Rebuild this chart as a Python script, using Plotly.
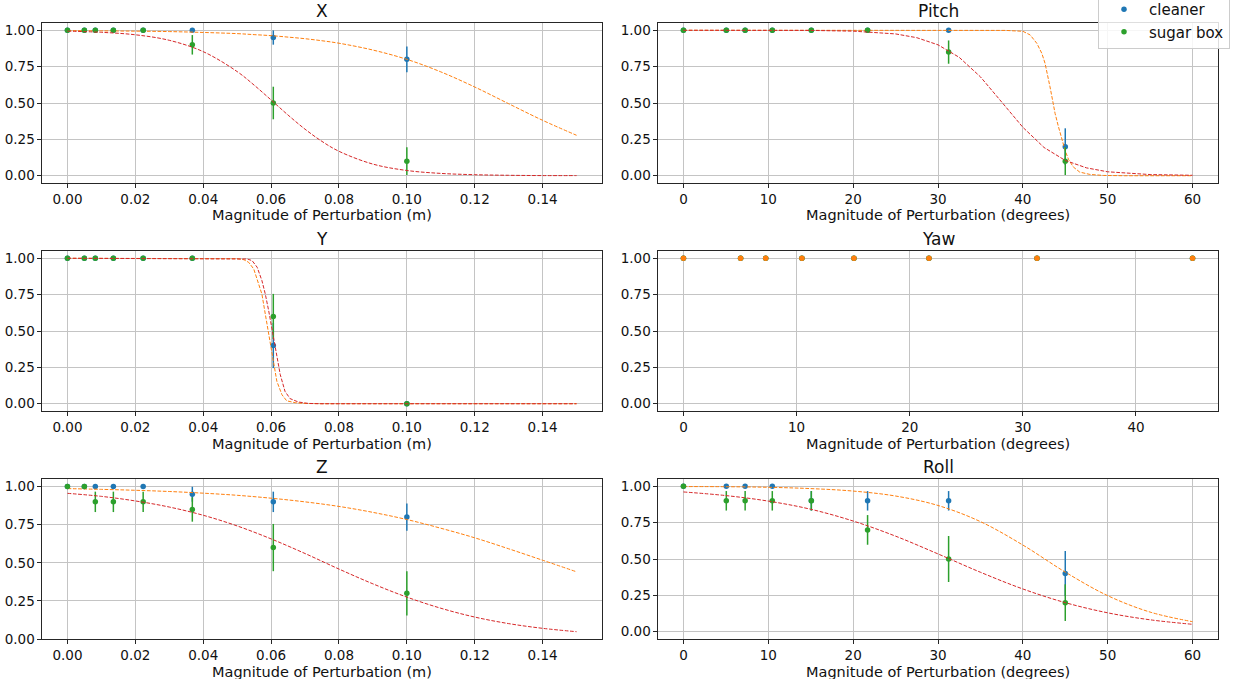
import plotly.graph_objects as go

# Perturbation magnitudes tested
trans_mag = [0, 0.00498, 0.00821, 0.01353, 0.02231, 0.03679, 0.06065, 0.1]   # metres
rot_mag = [0, 5.05, 7.27, 10.47, 15.07, 21.70, 31.25, 45.0]                   # degrees

# Success rates and error bars per axis
cleaner_x = [1, 1, 1, 1, 1, 1, 0.95, 0.8]
cleaner_x_err = [0, 0, 0, 0, 0, 0, 0.049, 0.089]
sugar_x = [1, 1, 1, 1, 1, 0.9, 0.5, 0.1]
sugar_x_err = [0, 0, 0, 0, 0, 0.067, 0.112, 0.095]

cleaner_y = [1, 1, 1, 1, 1, 1, 0.4, 0.0]
cleaner_y_err = [0, 0, 0, 0, 0, 0, 0.155, 0]
sugar_y = [1, 1, 1, 1, 1, 1, 0.6, 0.0]
sugar_y_err = [0, 0, 0, 0, 0, 0, 0.155, 0]

cleaner_z = [1, 1, 1, 1, 1, 0.95, 0.9, 0.8]
cleaner_z_err = [0, 0, 0, 0, 0, 0.049, 0.067, 0.089]
sugar_z = [1, 1, 0.9, 0.9, 0.9, 0.85, 0.6, 0.3]
sugar_z_err = [0, 0, 0.067, 0.067, 0.067, 0.08, 0.155, 0.145]

cleaner_pitch = [1, 1, 1, 1, 1, 1, 1, 0.2]
cleaner_pitch_err = [0, 0, 0, 0, 0, 0, 0, 0.126]
sugar_pitch = [1, 1, 1, 1, 1, 1, 0.85, 0.1]
sugar_pitch_err = [0, 0, 0, 0, 0, 0, 0.08, 0.095]

cleaner_yaw = [1, 1, 1, 1, 1, 1, 1, 1]
cleaner_yaw_err = [0, 0, 0, 0, 0, 0, 0, 0]
sugar_yaw = [1, 1, 1, 1, 1, 1, 1, 1]
sugar_yaw_err = [0, 0, 0, 0, 0, 0, 0, 0]
fit_yaw = [1, 1, 1, 1, 1, 1, 1, 1]

cleaner_roll = [1, 1, 1, 1, 0.9, 0.9, 0.9, 0.4]
cleaner_roll_err = [0, 0, 0, 0, 0.067, 0.067, 0.067, 0.155]
sugar_roll = [1, 0.9, 0.9, 0.9, 0.9, 0.7, 0.5, 0.2]
sugar_roll_err = [0, 0.067, 0.067, 0.067, 0.067, 0.102, 0.158, 0.126]

# Fitted success curves
fit_grid_m = [0, 0.01, 0.02, 0.03, 0.04, 0.05, 0.055, 0.06, 0.065, 0.07, 0.075,
              0.08, 0.09, 0.10, 0.11, 0.12, 0.13, 0.14, 0.15]
fit_x_cleaner = [0.998, 0.996, 0.994, 0.991, 0.985, 0.977, 0.970, 0.963, 0.953, 0.942,
                 0.928, 0.911, 0.864, 0.800, 0.714, 0.610, 0.495, 0.381, 0.278]
fit_x_sugar = [0.994, 0.986, 0.969, 0.931, 0.853, 0.716, 0.623, 0.521, 0.417, 0.320,
               0.236, 0.168, 0.080, 0.036, 0.016, 0.007, 0.003, 0.001, 0.001]

fit_y_cleaner_m = [0, 0.04, 0.048, 0.050, 0.052, 0.0534, 0.0549, 0.0563, 0.0573, 0.0583,
                   0.0591, 0.0598, 0.0607, 0.0617, 0.0632, 0.0646, 0.0671, 0.070, 0.075,
                   0.08, 0.15]
fit_y_cleaner = [1.0, 1.0, 0.999, 0.997, 0.99, 0.972, 0.926, 0.834, 0.753, 0.615,
                 0.5, 0.408, 0.27, 0.154, 0.062, 0.02, 0.007, 0.002, 0.0, 0.0, 0.0]
fit_y_sugar_m = [0, 0.04, 0.05, 0.053, 0.0544, 0.0559, 0.0573, 0.0583, 0.0593, 0.0601,
                 0.0607, 0.0617, 0.0627, 0.0641, 0.0656, 0.068, 0.071, 0.075, 0.08, 0.15]
fit_y_sugar = [1.0, 1.0, 0.999, 0.995, 0.984, 0.938, 0.846, 0.753, 0.638, 0.535,
               0.431, 0.316, 0.2, 0.085, 0.035, 0.012, 0.002, 0.0, 0.0, 0.0]

fit_grid_z = [0, 0.01, 0.02, 0.03, 0.04, 0.05, 0.06, 0.07, 0.08, 0.09, 0.10,
              0.11, 0.12, 0.13, 0.14, 0.15]
fit_z_cleaner = [0.987, 0.982, 0.976, 0.968, 0.957, 0.943, 0.924, 0.900, 0.870, 0.831,
                 0.784, 0.727, 0.664, 0.592, 0.517, 0.441]
fit_z_sugar = [0.956, 0.936, 0.906, 0.866, 0.812, 0.742, 0.657, 0.561, 0.459, 0.362,
               0.275, 0.202, 0.144, 0.101, 0.070, 0.048]

fit_pitch_cleaner_deg = [0, 30, 38, 40, 40.86, 41.65, 42.24, 42.62, 42.9, 43.2, 43.5, 43.8,
                         44.2, 44.6, 45.0, 45.4, 45.95, 46.7, 47.9, 49.5, 52, 60]
fit_pitch_cleaner = [1.0, 1.0, 0.999, 0.993, 0.968, 0.91, 0.841, 0.772, 0.703, 0.611, 0.52,
                     0.428, 0.336, 0.244, 0.17, 0.11, 0.06, 0.025, 0.009, 0.002, 0.0, 0.0]
fit_pitch_sugar_deg = [0, 10, 15, 20, 25, 27.5, 30, 32.5, 35, 37.5, 40, 42.5, 45, 47.5,
                       50, 55, 60]
fit_pitch_sugar = [1.0, 1.0, 0.999, 0.994, 0.975, 0.949, 0.90, 0.814, 0.68, 0.507, 0.333,
                   0.194, 0.105, 0.054, 0.027, 0.008, 0.003]

fit_grid_deg = [0, 5, 10, 15, 20, 25, 30, 35, 40, 45, 50, 55, 60]
fit_roll_cleaner = [0.998, 0.997, 0.993, 0.984, 0.967, 0.933, 0.868, 0.757, 0.596, 0.41,
                    0.248, 0.135, 0.069]
fit_roll_sugar = [0.961, 0.936, 0.898, 0.842, 0.761, 0.657, 0.535, 0.409, 0.294, 0.2,
                  0.13, 0.082, 0.051]

BLUE, ORANGE, GREEN, RED = "#1f77b4", "#ff7f0e", "#2ca02c", "#d62728"
FONT = "DejaVu Sans"
W, H = 1233, 679

# Panel frames in pixels (left, right, top, bottom)
cols = [(42, 602), (658, 1218)]
rows = [(23, 183), (251, 411), (479, 639)]

panels = [
    dict(title="X", unit="(m)", col=0, row=0, xs=trans_mag,
         c=cleaner_x, ce=cleaner_x_err, s=sugar_x, se=sugar_x_err,
         fc=(fit_grid_m, fit_x_cleaner), fs=(fit_grid_m, fit_x_sugar),
         xr=[-0.0075, 0.1575], yr=[-0.05, 1.05], dt=0.02, fmt=".2f"),
    dict(title="Pitch", unit="(degrees)", col=1, row=0, xs=rot_mag,
         c=cleaner_pitch, ce=cleaner_pitch_err, s=sugar_pitch, se=sugar_pitch_err,
         fc=(fit_pitch_cleaner_deg, fit_pitch_cleaner), fs=(fit_pitch_sugar_deg, fit_pitch_sugar),
         xr=[-3, 63], yr=[-0.05, 1.05], dt=10, fmt="d"),
    dict(title="Y", unit="(m)", col=0, row=1, xs=trans_mag,
         c=cleaner_y, ce=cleaner_y_err, s=sugar_y, se=sugar_y_err,
         fc=(fit_y_cleaner_m, fit_y_cleaner), fs=(fit_y_sugar_m, fit_y_sugar),
         xr=[-0.0075, 0.1575], yr=[-0.05, 1.05], dt=0.02, fmt=".2f"),
    dict(title="Yaw", unit="(degrees)", col=1, row=1, xs=rot_mag,
         c=cleaner_yaw, ce=cleaner_yaw_err, s=sugar_yaw, se=sugar_yaw_err,
         fc=None, fs=None,
         xr=[-2.25, 47.25], yr=[-0.05, 1.05], dt=10, fmt="d"),
    dict(title="Z", unit="(m)", col=0, row=2, xs=trans_mag,
         c=cleaner_z, ce=cleaner_z_err, s=sugar_z, se=sugar_z_err,
         fc=(fit_grid_z, fit_z_cleaner), fs=(fit_grid_z, fit_z_sugar),
         xr=[-0.0075, 0.1575], yr=[0, 1.05], dt=0.02, fmt=".2f"),
    dict(title="Roll", unit="(degrees)", col=1, row=2, xs=rot_mag,
         c=cleaner_roll, ce=cleaner_roll_err, s=sugar_roll, se=sugar_roll_err,
         fc=(fit_grid_deg, fit_roll_cleaner), fs=(fit_grid_deg, fit_roll_sugar),
         xr=[-3, 63], yr=[-0.05, 1.05], dt=10, fmt="d"),
]

fig = go.Figure()
annotations = []
layout_axes = {}


def points(x, y, err, color, name, xa, ya, show):
    return go.Scatter(
        x=x, y=y, mode="markers", name=name, legendgroup=name, showlegend=show,
        marker=dict(color=color, size=5.5),
        error_y=dict(type="data", array=err, visible=True, thickness=1.5, width=0, color=color),
        xaxis=xa, yaxis=ya,
    )


def curve(xy, color, xa, ya, shape):
    return go.Scatter(
        x=xy[0], y=xy[1], mode="lines", showlegend=False, hoverinfo="skip",
        line=dict(color=color, width=1, dash="3.7px,1.6px", shape=shape),
        xaxis=xa, yaxis=ya,
    )


for i, p in enumerate(panels, start=1):
    xa, ya = f"x{i}", f"y{i}"
    first = i == 1
    steep = p["title"] in ("Y", "Pitch")
    shape = "linear" if steep else "spline"

    fig.add_trace(points(p["xs"], p["c"], p["ce"], BLUE, "cleaner", xa, ya, first))
    if p["fc"] is not None:
        fig.add_trace(curve(p["fc"], ORANGE, xa, ya, shape))
    fig.add_trace(points(p["xs"], p["s"], p["se"], GREEN, "sugar box", xa, ya, first))
    if p["fs"] is not None:
        fig.add_trace(curve(p["fs"], RED, xa, ya, shape))
    if p["title"] == "Yaw":
        fig.add_trace(go.Scatter(x=p["xs"], y=fit_yaw, mode="markers", showlegend=False,
                                 marker=dict(color=ORANGE, size=5.5), xaxis=xa, yaxis=ya))

    l, r = cols[p["col"]]
    t, b = rows[p["row"]]
    xdom = [l / W, r / W]
    ydom = [1 - b / H, 1 - t / H]
    common = dict(
        showline=True, mirror=True, linecolor="#262626", linewidth=1.1,
        showgrid=True, gridcolor="#c4c4c4", gridwidth=1, zeroline=False,
        ticks="outside", ticklen=3.5, tickwidth=1, tickcolor="#262626",
        tickfont=dict(family=FONT, size=13.5, color="#111"),
        automargin=False,
    )
    tick_fmt = ".2f" if p["fmt"] == ".2f" else "d"
    layout_axes[f"xaxis{i}"] = dict(
        domain=xdom, anchor=ya, range=p["xr"], tick0=0, dtick=p["dt"],
        tickformat=tick_fmt, **common,
    )
    layout_axes[f"yaxis{i}"] = dict(
        domain=ydom, anchor=xa, range=p["yr"], tick0=0, dtick=0.25,
        tickformat=".2f", **common,
    )
    # panel title
    annotations.append(dict(
        text=p["title"], xref="paper", yref="paper",
        x=(xdom[0] + xdom[1]) / 2, y=ydom[1], xanchor="center", yanchor="bottom",
        yshift=0, showarrow=False, font=dict(family=FONT, size=17, color="#111"),
    ))
    # x-axis label
    annotations.append(dict(
        text="Magnitude of Perturbation " + p["unit"], xref="paper", yref="paper",
        x=(xdom[0] + xdom[1]) / 2, y=ydom[0], xanchor="center", yanchor="middle",
        yshift=-32.5, showarrow=False, font=dict(family=FONT, size=14.5, color="#111"),
        borderpad=0,
    ))

fig.update_layout(
    width=W, height=H,
    margin=dict(l=0, r=0, t=0, b=0, autoexpand=False),
    paper_bgcolor="white", plot_bgcolor="white",
    font=dict(family=FONT, color="#111"),
    annotations=annotations,
    legend=dict(
        x=1098 / W, y=1 + 8 / H, xanchor="left", yanchor="top",
        bgcolor="rgba(255,255,255,0.85)", bordercolor="#cccccc", borderwidth=1,
        font=dict(family=FONT, size=15, color="#111"), itemwidth=40,
        tracegroupgap=0,
    ),
    **layout_axes,
)

fig.write_html("out.html")
